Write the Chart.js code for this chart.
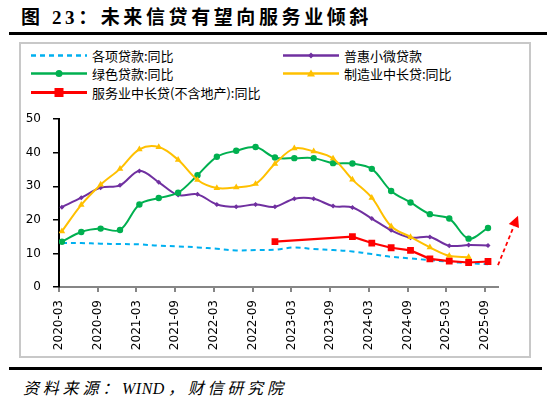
<!DOCTYPE html>
<html lang="zh-CN">
<head>
<meta charset="utf-8">
<script src="https://cdn.jsdelivr.net/npm/chart.js@4"></script>
<style>
    html, body { margin: 0; padding: 0; background: #fff; }
    body { position: relative; width: 550px; height: 401px; overflow: hidden; font-family: "Noto Sans CJK SC", sans-serif; }
    .title { position: absolute; left: 21px; top: 2px; font: bold 19px "Liberation Serif", "Noto Sans CJK SC", serif; letter-spacing: 3.6px; color: #000; white-space: nowrap; }
    .rule { position: absolute; left: 9px; height: 3px; background: #000; }
    .frame { position: absolute; left: 19px; top: 42px; width: 512px; height: 316px; border: 2px solid #c8c8c8; box-sizing: border-box; }
    .legend-item { position: absolute; display: flex; align-items: center; font-size: 13px; color: #000; white-space: nowrap; transform: translateY(-50%); }
    .legend-item svg { margin-right: 5px; }
    #wrap { position: absolute; left: 20px; top: 100px; width: 520px; height: 258px; }
    .source { position: absolute; left: 23px; top: 375px; font: italic 16px "Liberation Serif", "Noto Sans CJK SC", serif; letter-spacing: 3.8px; color: #000; white-space: nowrap; }
    .source span { letter-spacing: 0.5px; margin-right: 3px; }
</style>
</head>
<body>
<div class="title">图 23：未来信贷有望向服务业倾斜</div>
<div class="rule" style="top:32px;width:538px"></div>
<div class="frame"></div>
<div id="legend"></div>
<div id="wrap"><canvas id="creditChart" width="520" height="258"></canvas></div>
<div class="rule" style="top:367px;width:533px"></div>
<div class="source">资料来源：<span>WIND</span>，财信研究院</div>

<script>
// quarter-end months
const quarters = ['2020-03', '2020-06', '2020-09', '2020-12', '2021-03', '2021-06', '2021-09', '2021-12',
    '2022-03', '2022-06', '2022-09', '2022-12', '2023-03', '2023-06', '2023-09', '2023-12',
    '2024-03', '2024-06', '2024-09', '2024-12', '2025-03', '2025-06', '2025-09'];
const xTickLabels = ['2020-03', '2020-09', '2021-03', '2021-09', '2022-03', '2022-09',
    '2023-03', '2023-09', '2024-03', '2024-09', '2025-03', '2025-09'];
const yTicks = [0, 10, 20, 30, 40, 50];

const allLoans = [13.1, 13.1, 12.9, 12.8, 12.7, 12.3, 12.1, 11.8, 11.4, 10.9, 11.0, 11.1,
    11.8, 11.3, 11.0, 10.6, 9.8, 9.0, 8.5, 8.0, 7.5, 7.1, 6.8];
const smallMicro = [23.8, 26.6, 29.6, 30.3, 34.6, 31.2, 27.4, 27.6, 24.6, 23.9, 24.6, 23.9,
    26.3, 26.3, 24.1, 23.7, 20.4, 16.9, 14.7, 14.9, 12.3, 12.5, 12.4];
const greenLoans = [13.5, 16.4, 17.4, 17.0, 24.6, 26.5, 28.1, 33.3, 38.8, 40.6, 41.7, 38.6,
    38.4, 38.4, 36.9, 36.8, 35.2, 28.6, 25.2, 21.7, 20.4, 14.4, 17.6];
const manufacturing = [16.6, 24.5, 30.5, 35.2, 41.0, 41.7, 37.9, 31.9, 29.5, 29.7, 30.7, 36.7,
    41.3, 40.4, 38.3, 32.0, 26.6, 18.1, 14.9, 11.8, 9.3, 8.9, null];
const services = [null, null, null, null, null, null, null, null, null, null, null, 13.5,
    null, null, null, 15.0, 13.1, 11.7, 10.9, 8.4, 7.7, 7.3, 7.6];

// dashed "expected rebound" arrow, [month index, value]
const arrowFrom = [68, 6.5];
const arrowTo = [71.1, 21.2];

// months since 2020-03
const monthIndex = s => (+s.slice(0, 4) - 2020) * 12 + (+s.slice(5, 7) - 3);
// period-end values sit about half a month past the month tick
const toPoints = vals => vals.map((v, i) => ({ x: monthIndex(quarters[i]) + 0.45, y: v }));

const series = [
    { label: '各项贷款:同比', data: allLoans, color: '#00b0f0', dash: [5, 4], style: false, r: 0, order: 4, tension: 0.35 },
    { label: '普惠小微贷款', data: smallMicro, color: '#7030a0', style: 'rectRot', r: 2.5, order: 3, tension: 0.35 },
    { label: '绿色贷款:同比', data: greenLoans, color: '#00b050', style: 'circle', r: 3.2, order: 2, tension: 0.35 },
    { label: '制造业中长贷:同比', data: manufacturing, color: '#ffc000', style: 'triangle', r: 3.8, order: 1, tension: 0.35 },
    { label: '服务业中长贷(不含地产):同比', data: services, color: '#ff0000', style: 'rect', r: 4.8, order: 0, tension: 0 }
];

// html legend, two columns like the original
const legendPos = [[31, 55], [283, 55], [31, 73], [283, 73], [31, 92]];
const markerSvg = s => {
    const c = s.color;
    if (s.style === 'circle') return `<circle cx="28" cy="6" r="3.5" fill="${c}"/>`;
    if (s.style === 'triangle') return `<polygon points="28,2 32,9 24,9" fill="${c}"/>`;
    if (s.style === 'rect') return `<rect x="23.5" y="1.5" width="9" height="9" fill="${c}"/>`;
    if (s.style === 'rectRot') return `<polygon points="28,3 31,6 28,9 25,6" fill="${c}"/>`;
    return '';
};
document.getElementById('legend').innerHTML = series.map((s, i) => {
    const [left, top] = legendPos[i];
    const w = s.style === 'rect' ? 3 : 2.5;
    const dash = s.dash ? `stroke-dasharray="${s.dash.join(' ')}"` : '';
    return `<div class="legend-item" style="left:${left}px;top:${top}px">
        <svg width="56" height="12"><line x1="0" y1="6" x2="56" y2="6" stroke="${s.color}" stroke-width="${w}" ${dash}/>${markerSvg(s)}</svg>
        <span>${s.label}</span></div>`;
}).join('');

const arrowPlugin = {
    id: 'arrow',
    afterDraw(chart) {
        const { ctx, scales: { x, y } } = chart;
        const x0 = x.getPixelForValue(arrowFrom[0]), y0 = y.getPixelForValue(arrowFrom[1]);
        const x1 = x.getPixelForValue(arrowTo[0]), y1 = y.getPixelForValue(arrowTo[1]);
        const ang = Math.atan2(y1 - y0, x1 - x0);
        const head = 11;
        const bx = x1 - head * Math.cos(ang), by = y1 - head * Math.sin(ang);
        ctx.save();
        ctx.strokeStyle = '#ff0000';
        ctx.fillStyle = '#ff0000';
        ctx.lineWidth = 1.8;
        ctx.setLineDash([4, 3]);
        ctx.beginPath();
        ctx.moveTo(x0, y0);
        ctx.lineTo(bx, by);
        ctx.stroke();
        ctx.setLineDash([]);
        ctx.beginPath();
        ctx.moveTo(x1, y1);
        ctx.lineTo(bx + 5.5 * Math.sin(ang), by - 5.5 * Math.cos(ang));
        ctx.lineTo(bx - 5.5 * Math.sin(ang), by + 5.5 * Math.cos(ang));
        ctx.closePath();
        ctx.fill();
        ctx.restore();
    }
};

const tickFont = { family: 'DejaVu Sans', size: 12 };

new Chart(document.getElementById('creditChart'), {
    type: 'line',
    data: {
        datasets: series.map(s => ({
            label: s.label,
            data: toPoints(s.data),
            order: s.order,
            borderColor: s.color,
            backgroundColor: s.color,
            borderWidth: s.style === 'rect' ? 2.2 : 2,
            borderDash: s.dash || [],
            pointStyle: s.style,
            pointRadius: s.r,
            pointBorderWidth: 0,
            tension: s.tension,
            spanGaps: true
        }))
    },
    plugins: [arrowPlugin],
    options: {
        responsive: false,
        animation: false,
        events: [],
        layout: { padding: { top: 13, right: 42, left: 0, bottom: 0 } },
        plugins: { legend: { display: false }, tooltip: { enabled: false } },
        scales: {
            x: {
                type: 'linear',
                min: 0,
                max: 68,
                afterFit: s => { s.height = 71; },
                afterBuildTicks: s => { s.ticks = xTickLabels.map(l => ({ value: monthIndex(l) })); },
                ticks: {
                    autoSkip: false,
                    minRotation: 90,
                    maxRotation: 90,
                    padding: 8,
                    color: '#000',
                    font: tickFont,
                    callback: (v, i) => xTickLabels[i]
                },
                grid: { drawOnChartArea: false, tickLength: 5, color: '#868686', lineWidth: 2 },
                border: { color: '#868686', width: 2 }
            },
            y: {
                min: 0,
                max: 50,
                afterFit: s => { s.width = 39; },
                afterBuildTicks: s => { s.ticks = yTicks.map(v => ({ value: v })); },
                ticks: { padding: 12, color: '#000', font: tickFont },
                grid: { drawOnChartArea: false, tickLength: 6, color: '#000', lineWidth: 1.5 },
                border: { color: '#000', width: 2 }
            }
        }
    }
});
</script>
</body>
</html>
